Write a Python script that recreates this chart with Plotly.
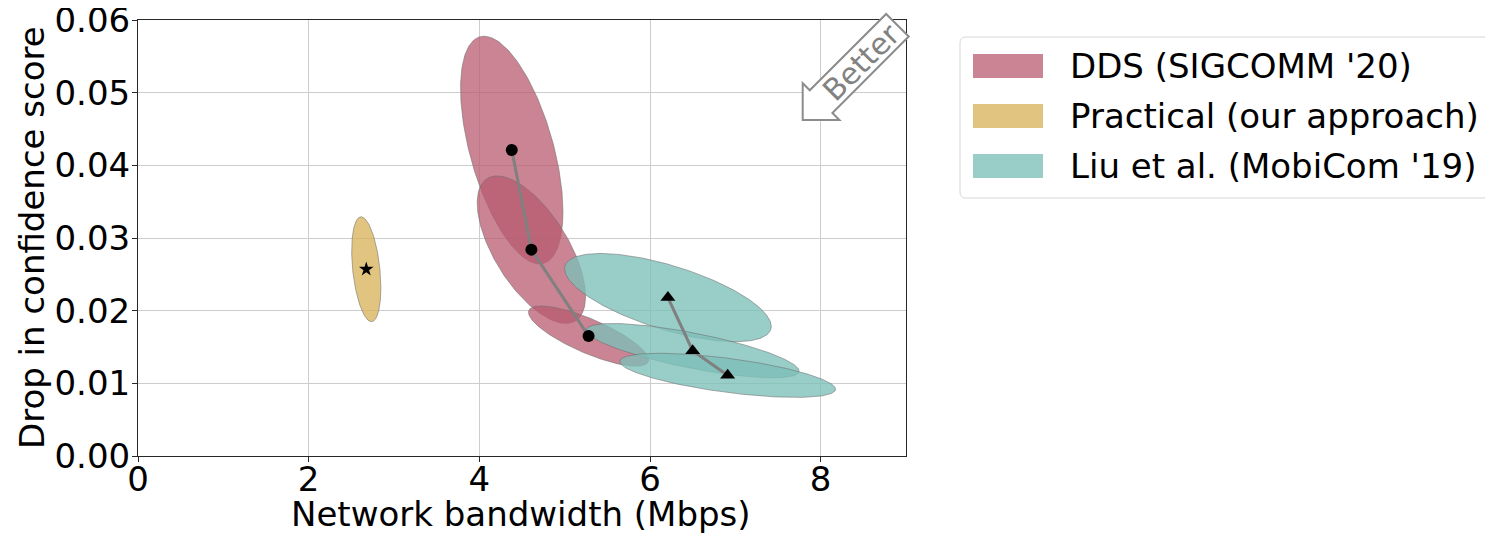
import numpy as np
import plotly.graph_objects as go

# ---------------- data ----------------
dds_bw = [4.38, 4.61, 5.28]
dds_drop = [0.0421, 0.0284, 0.0165]
dds_bw_std = [0.600, 0.635, 0.704]
dds_drop_std = [0.01567, 0.01015, 0.00415]
dds_corr = [-0.541, -0.633, -0.790]

prac_bw = [2.675]
prac_drop = [0.0257]
prac_bw_std = [0.171]
prac_drop_std = [0.00722]
prac_corr = [-0.354]

liu_bw = [6.21, 6.50, 6.91]
liu_drop = [0.0218, 0.0145, 0.0111]
liu_bw_std = [1.211, 1.247, 1.264]
liu_drop_std = [0.00607, 0.00374, 0.00304]
liu_corr = [-0.653, -0.752, -0.629]

legend_labels = ["DDS (SIGCOMM '20)", "Practical (our approach)", "Liu et al. (MobiCom '19)"]
x_ticks = [0, 2, 4, 6, 8]
y_ticks = [0.00, 0.01, 0.02, 0.03, 0.04, 0.05, 0.06]
x_title = "Network bandwidth (Mbps)"
y_title = "Drop in confidence score"

# ---------------- style ----------------
OFF = 8                               # page body margin of the browser
W, H = 1493 - OFF, 535 - OFF
PL, PR, PT, PB = 138, 906, 20, 456    # plot area in screenshot pixels
FONT = "DejaVu Sans"
FS = 34
PINK = "rgba(184,91,111,0.75)"
YELLOW = "rgba(216,179,91,0.78)"
TEAL = "rgba(124,191,185,0.78)"
EDGE = "rgba(110,110,110,0.7)"


def px2paper(px, py):
    return (px - PL) / (PR - PL), (PB - py) / (PB - PT)


def ellipse(mx, my, sx, sy, rho, n=240):
    t = np.linspace(0, 2 * np.pi, n)
    ex = mx + sx * np.cos(t)
    ey = my + sy * (rho * np.cos(t) + np.sqrt(1 - rho ** 2) * np.sin(t))
    return ex, ey


fig = go.Figure()


def add_ellipses(xs, ys, sxs, sys_, rhos, color):
    for mx, my, sx, sy, r in zip(xs, ys, sxs, sys_, rhos):
        ex, ey = ellipse(mx, my, sx, sy, r)
        fig.add_trace(go.Scatter(x=ex, y=ey, mode="lines", fill="toself",
                                 fillcolor=color, line=dict(color=EDGE, width=0.8),
                                 hoverinfo="skip", showlegend=False))


add_ellipses(dds_bw, dds_drop, dds_bw_std, dds_drop_std, dds_corr, PINK)
add_ellipses(prac_bw, prac_drop, prac_bw_std, prac_drop_std, prac_corr, YELLOW)
add_ellipses(liu_bw, liu_drop, liu_bw_std, liu_drop_std, liu_corr, TEAL)

fig.add_trace(go.Scatter(x=dds_bw, y=dds_drop, mode="lines+markers",
                         line=dict(color="rgb(128,128,128)", width=3),
                         marker=dict(symbol="circle", size=12, color="black"),
                         showlegend=False))
fig.add_trace(go.Scatter(x=liu_bw, y=liu_drop, mode="lines+markers",
                         line=dict(color="rgb(128,128,128)", width=3),
                         marker=dict(symbol="triangle-up", size=13, color="black"),
                         showlegend=False))
fig.add_trace(go.Scatter(x=prac_bw, y=prac_drop, mode="markers",
                         marker=dict(symbol="star", size=11, color="black"),
                         showlegend=False))

shapes = []
annotations = []

# ---- "Better" arrow (larrow box rotated 45deg) ----
tip = np.array([802.7, 120.0])
d = np.array([1.0, -1.0]) / np.sqrt(2)
nrm = np.array([1.0, 1.0]) / np.sqrt(2)
head_len, head_hw, body_hw, total = 26, 26, 16, 134
pts = [tip,
       tip + head_len * d + head_hw * nrm,
       tip + head_len * d + body_hw * nrm,
       tip + total * d + body_hw * nrm,
       tip + total * d - body_hw * nrm,
       tip + head_len * d - body_hw * nrm,
       tip + head_len * d - head_hw * nrm]
path = ""
for i, p in enumerate(pts):
    xp, yp = px2paper(*p)
    path += ("M" if i == 0 else "L") + f"{xp:.5f},{yp:.5f} "
path += "Z"
shapes.append(dict(type="path", xref="paper", yref="paper", path=path,
                   line=dict(color="rgb(140,140,140)", width=2), fillcolor="white",
                   layer="above"))
cx, cy = px2paper(*(tip + 82 * d))
annotations.append(dict(x=cx, y=cy, xref="paper", yref="paper", text="Better",
                        textangle=-45, showarrow=False, xanchor="center", yanchor="middle",
                        font=dict(family=FONT, size=30, color="rgb(130,130,130)")))

# ---- custom legend ----
bx0, by0 = px2paper(960, 198)
bx1, by1 = px2paper(1490, 37)
rx = 6 / (PR - PL)
ry = 6 / (PB - PT)
legend_path = (f"M{bx0+rx},{by0} L{bx1-rx},{by0} Q{bx1},{by0} {bx1},{by0+ry} "
               f"L{bx1},{by1-ry} Q{bx1},{by1} {bx1-rx},{by1} L{bx0+rx},{by1} "
               f"Q{bx0},{by1} {bx0},{by1-ry} L{bx0},{by0+ry} Q{bx0},{by0} {bx0+rx},{by0} Z")
shapes.append(dict(type="path", xref="paper", yref="paper", path=legend_path,
                   line=dict(color="rgb(215,215,215)", width=1), fillcolor="white"))
for i, (lab, col) in enumerate(zip(legend_labels, [PINK, YELLOW, TEAL])):
    yc = 66 + 50 * i
    x0, y0 = px2paper(973, yc + 12)
    x1, y1 = px2paper(1043, yc - 12)
    shapes.append(dict(type="rect", xref="paper", yref="paper", x0=x0, y0=y0, x1=x1, y1=y1,
                       line=dict(width=0), fillcolor=col))
    tx, ty = px2paper(1068, yc)
    annotations.append(dict(x=tx, y=ty, xref="paper", yref="paper", text=lab,
                            showarrow=False, xanchor="left", yanchor="middle",
                            font=dict(family=FONT, size=FS, color="black")))

# ---- axis titles ----
tx, ty = px2paper(521, 514)
annotations.append(dict(x=tx, y=ty, xref="paper", yref="paper", text=x_title,
                        showarrow=False, xanchor="center", yanchor="middle",
                        font=dict(family=FONT, size=FS, color="black")))
tx, ty = px2paper(32, 238)
annotations.append(dict(x=tx, y=ty, xref="paper", yref="paper", text=y_title,
                        textangle=-90, showarrow=False, xanchor="center", yanchor="middle",
                        font=dict(family=FONT, size=FS, color="black")))

axis_common = dict(showline=True, linecolor="rgb(40,40,40)", linewidth=1, mirror=True,
                   ticks="outside", ticklen=5, tickcolor="rgb(40,40,40)",
                   showgrid=True, gridcolor="rgb(205,205,205)", gridwidth=1,
                   zeroline=False, ticklabeloverflow="allow",
                   tickfont=dict(family=FONT, size=FS, color="black"))

fig.update_layout(
    width=W, height=H,
    margin=dict(l=PL - OFF, r=W - (PR - OFF), t=PT - OFF, b=H - (PB - OFF), autoexpand=False),
    paper_bgcolor="white", plot_bgcolor="white",
    showlegend=False,
    xaxis=dict(range=[0, 9], tickvals=x_ticks, ticktext=[str(v) for v in x_ticks],
               ticklabelstandoff=-12, **axis_common),
    yaxis=dict(range=[0, 0.0600001], tickvals=y_ticks, ticktext=[f"{v:.2f}" for v in y_ticks],
               ticklabelstandoff=-5, **axis_common),
    shapes=shapes, annotations=annotations,
)

fig.write_html("out.html")
